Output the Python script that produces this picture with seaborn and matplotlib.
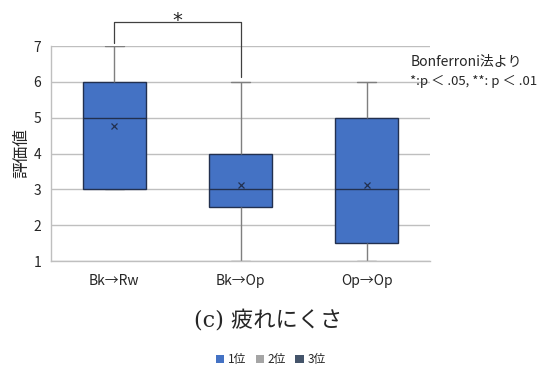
import pandas as pd
import matplotlib
matplotlib.use("Agg")
import matplotlib.pyplot as plt
import seaborn as sns
from matplotlib.patches import Patch

# ratings per condition
categories = ["Bk→Rw", "Bk→Op", "Op→Op"]
bk_rw = [3, 3, 3, 3, 3, 5, 5, 5, 6, 6, 6, 7, 7]
bk_op = [1, 1, 2, 2, 3, 3, 3, 3, 3, 3, 4, 4, 4, 5, 6]
op_op = [1, 1, 1, 1, 2, 2, 2, 3, 4, 4, 5, 5, 5, 5, 6]
y_ticks = [1, 2, 3, 4, 5, 6, 7]
legend_labels = ["1位", "2位", "3位"]
legend_colors = ["#4472C4", "#A5A5A5", "#44546A"]

df = pd.DataFrame({
    "条件": [categories[0]] * len(bk_rw) + [categories[1]] * len(bk_op) + [categories[2]] * len(op_op),
    "評価値": bk_rw + bk_op + op_op,
})

sns.set_style("white")
plt.rcParams['font.family'] = ['Noto Sans CJK JP', 'DejaVu Sans']

fig = plt.figure(figsize=(5.47, 3.67), dpi=100)
ax = fig.add_axes([0.0932, 0.2888, 0.693, 0.5858])

sns.boxplot(x="条件", y="評価値", data=df, order=categories, ax=ax,
            color="#4472C4", saturation=1, width=0.5, linecolor="#22304F",
            linewidth=1.0, whis=10, showmeans=True, capwidths=0.15,
            meanprops=dict(marker="x", markeredgecolor="#22304F", markersize=5, markeredgewidth=0.9),
            whiskerprops=dict(color="#7F7F7F", linewidth=1.0),
            capprops=dict(color="#7F7F7F", linewidth=1.0, zorder=1),
            medianprops=dict(color="#22304F", linewidth=1.0))

ax.set_xlim(-0.5, 2.5)
ax.set_ylim(1, 7)
ax.set_yticks(y_ticks)
ax.yaxis.grid(True, color="#BFBFBF", linewidth=1.0)
ax.set_axisbelow(True)
for s in ["top", "right"]:
    ax.spines[s].set_visible(False)
for s in ["left", "bottom"]:
    ax.spines[s].set_color("#BFBFBF")
    ax.spines[s].set_linewidth(1.0)
ax.tick_params(axis="both", length=0, labelsize=10)
ax.tick_params(axis="y", pad=7)
ax.tick_params(axis="x", pad=9)
ax.set_xlabel("")
ax.set_ylabel("評価値", fontsize=12, labelpad=2)

# significance bracket
ax.plot([0, 0, 1, 1], [7.08, 7.67, 7.67, 6.13], color="#404040", linewidth=0.9, clip_on=False)
ax.text(0.5, 7.46, "*", ha="center", va="bottom", fontsize=14, color="#222222",
        family="DejaVu Sans")

fig.text(0.75, 0.83, "Bonferroni法より", fontsize=10, va="center")
fig.text(0.75, 0.778, "*:p ＜ .05, **: p ＜ .01", fontsize=9.5, va="center")

fig.text(0.49, 0.128, "(c) 疲れにくさ", ha="center", va="center", fontsize=16,
         family=['DejaVu Serif', 'Noto Sans CJK JP'])

handles = [Patch(facecolor=c, edgecolor="none") for c in legend_colors]
fig.legend(handles, legend_labels, loc="center", bbox_to_anchor=(0.495, 0.02), ncol=3,
           frameon=False, fontsize=8.5, handlelength=0.7, handleheight=0.7,
           handletextpad=0.3, columnspacing=0.8)

fig.savefig("out.png", dpi=100)
